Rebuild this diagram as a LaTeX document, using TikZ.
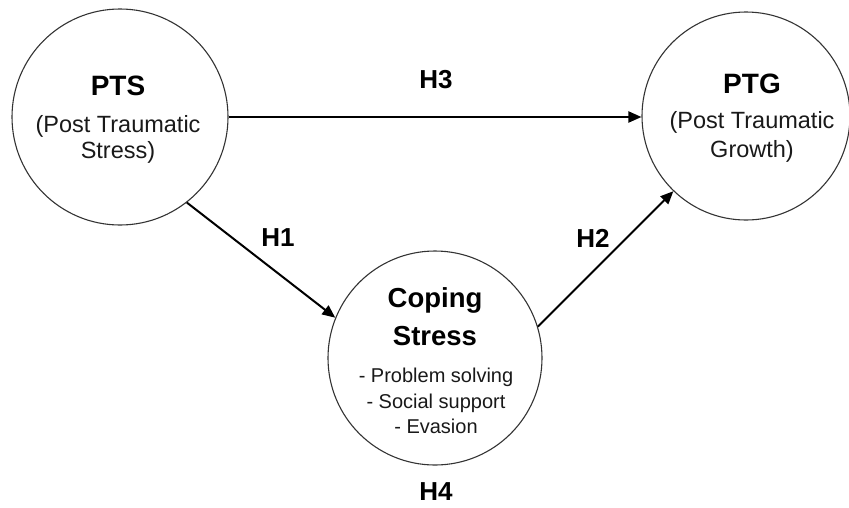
\documentclass[tikz,border=0pt]{standalone}
\usepackage{fontspec}
\setmainfont{Liberation Sans}
\usetikzlibrary{arrows.meta}
\begin{document}
\begin{tikzpicture}[x=1pt,y=-1pt,
  bubble/.style={circle,draw=black!80,line width=1.1pt,inner sep=0pt},
  titletext/.style={anchor=base,font=\fontsize{28pt}{32pt}\selectfont\bfseries},
  subtext/.style={anchor=base,font=\fontsize{23.5pt}{28pt}\selectfont,text=black!90},
  itemtext/.style={anchor=base,font=\fontsize{20pt}{24pt}\selectfont,text=black!90},
  hyp/.style={font=\fontsize{26pt}{30pt}\selectfont\bfseries},
  link/.style={line width=2pt,-{Triangle[length=13pt,width=11pt]}}]
\useasboundingbox (0,0) rectangle (849,507);
% circles
\node[bubble,minimum size=216pt] (pts) at (120,117) {};
\node[bubble,minimum size=208pt] (ptg) at (746,116) {};
\node[bubble,minimum size=214pt] (cop) at (435,358) {};
% PTS text
\node[titletext] (ptsA) at (118,95) {PTS};
\node[subtext] (ptsB) at (118,132) {(Post Traumatic};
\node[subtext] (ptsC) at (118,158) {Stress)};
% PTG text
\node[titletext] (ptgA) at (752,93) {PTG};
\node[subtext] (ptgB) at (752,128) {(Post Traumatic};
\node[subtext] (ptgC) at (752,157) {Growth)};
% Coping text
\node[titletext,font=\fontsize{27.5pt}{32pt}\selectfont\bfseries] (copA) at (435,307) {Coping};
\node[titletext,font=\fontsize{27.5pt}{32pt}\selectfont\bfseries] (copB) at (435,345) {Stress};
\node[itemtext] (copC) at (436,382) {- Problem solving};
\node[itemtext] (copD) at (436,408) {- Social support};
\node[itemtext] (copE) at (436,433) {- Evasion};
% connectors
\draw[link] (pts.east) -- (pts.east -| ptg.west);
\draw[link] (pts.-52) -- (cop.158);
\draw[link] (cop.17) -- (ptg.226);
% hypothesis labels
\node[hyp] (h3) at (436,80) {H3};
\node[hyp] (h1) at (278,238) {H1};
\node[hyp] (h2) at (593,238) {H2};
\node[hyp] (h4) at (436,492) {H4};
\end{tikzpicture}
\end{document}
